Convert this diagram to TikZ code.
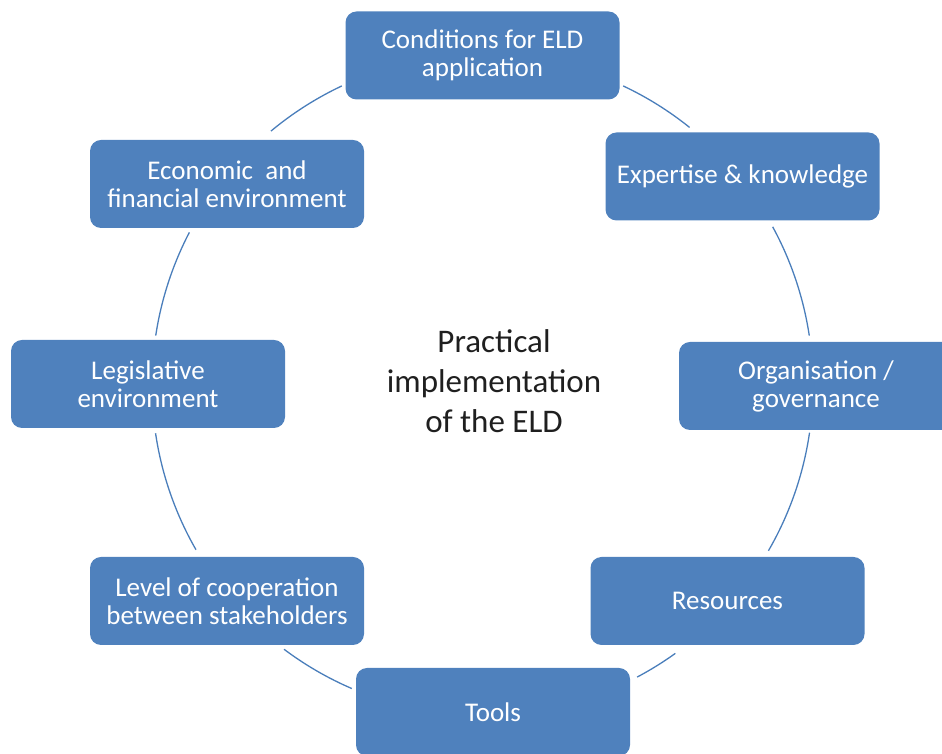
\documentclass[tikz,border=0pt]{standalone}
\usepackage{fontspec}
\setmainfont{Carlito}
\usepackage{xcolor}
\usepackage{tikz}
\usetikzlibrary{shapes,arrows,positioning,calc}
\definecolor{boxblue}{RGB}{79,129,189}
\definecolor{ringblue}{RGB}{74,126,187}

\begin{document}
\begin{tikzpicture}[x=1pt,y=1pt]

	\tikzset{
	factor/.style={draw=none, fill=boxblue, rounded corners=11pt, minimum width=274pt,
		minimum height=88pt, inner sep=2pt, align=center, text=white,
		font=\fontsize{27}{28}\selectfont},
	hub/.style={align=center, text=black!88, font=\fontsize{33}{40}\selectfont},
	ring/.style={draw=ringblue, line width=1.3pt}
}

\useasboundingbox (0,0) rectangle (942,754);

% boxes round the ring, clockwise from the top
\node[factor](cond) at (482.5,698.5){Conditions for ELD\\application};
\node[factor](expert) at (742.5,577.5){Expertise \& knowledge};
\node[factor](organ) at (816,368){Organisation /\\governance};
\node[factor](resrc) at (727.5,153){Resources};
\node[factor](tools) at (493,42){Tools};
\node[factor](coop) at (227,153){Level of cooperation\\between stakeholders};
\node[factor](legis) at (148,370){Legislative\\environment};
\node[factor](econ) at (227,570){Economic~ and\\financial environment};

\coordinate (ringc) at (482.5,369);
\node[hub](impl) at (494,373){Practical\\implementation\\of the ELD};

% arcs of the ring between the boxes
\foreach \a/\b in {64.8/51.2, 28.6/8.6, -8.3/-30.1, -54.3/-62.1,
		-113.3/-126.9, -150.1/-171.6, 171.4/152.5, 129.8/115.2}
	\draw[ring] ($(ringc)+(\a:330.5)$) arc[start angle=\a, end angle=\b, radius=330.5];

\end{tikzpicture}
\end{document}
